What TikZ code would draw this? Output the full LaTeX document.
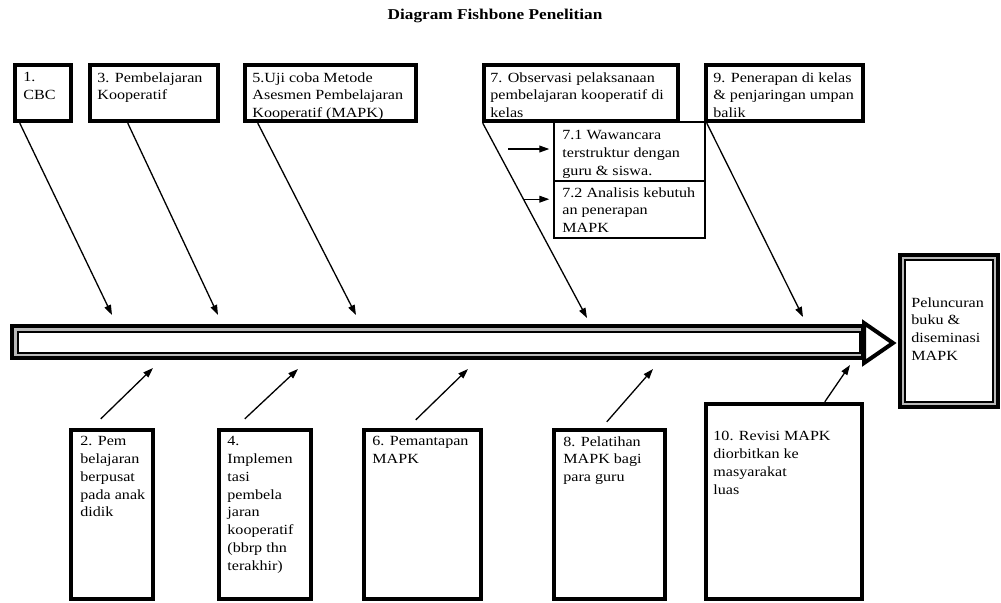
\documentclass[tikz,border=0pt]{standalone}
\usepackage{fontspec}
\setmainfont{Liberation Serif}[FakeStretch=1.15]
\usetikzlibrary{arrows.meta,fit,calc}

\tikzset{
  heavybox/.style={draw, line width=2.2pt, inner sep=0pt},
  thinbox/.style={draw, line width=0.7pt, inner sep=0pt, fill=white},
  dblouter/.style={draw, line width=2pt, inner sep=0pt, fill=gray!55},
  dblinner/.style={draw, line width=0.6pt, inner sep=0pt, fill=white},
  boxtext/.style={anchor=north west, align=left, inner sep=0pt, font=\fontsize{7}{8.9}\selectfont,
    execute at begin node={\rule{0pt}{5pt}}},
  bone/.style={line width=0.65pt, -{Triangle[length=5pt,width=3.4pt]}},
}

\begin{document}
\begin{tikzpicture}[x=0.5pt, y=-0.5pt]
\useasboundingbox (0,0) rectangle (1001,602);

\node[font=\bfseries\fontsize{7.5}{9}\selectfont, anchor=base] (title) at (495,19) {Diagram Fishbone Penelitian};

% spine with head
\node[dblouter, fit={(12,326) (863,358)}] (spine) {};
\node[dblinner, fit={(18,332) (860,353)}] (channel) {};
\draw[line width=2pt, fill=white, line join=miter] (864,323) -- (893,343) -- (864,363) -- cycle;

% result
\node[dblouter, fit={(900,255) (998,407)}] (result) {};
\node[dblinner, fit={(905,260) (993,402)}] (resultin) {};
\node[boxtext] (tr) at (911,297) {Peluncuran\\buku \&\\diseminasi\\MAPK};

% sub boxes of 7
\node[thinbox, fit={(554,122) (705,181)}] (b71) {};
\node[thinbox, fit={(554,181) (705,238)}] (b72) {};

% top boxes
\node[heavybox, fit={(15,65) (71,121)}] (b1) {};
\node[heavybox, fit={(90,65) (218,121)}] (b3) {};
\node[heavybox, fit={(245,65) (416,121)}] (b5) {};
\node[heavybox, fit={(484,65) (678,121)}] (b7) {};
\node[heavybox, fit={(706,65) (863,121)}] (b9) {};

% bottom boxes
\node[heavybox, fit={(71,430) (153,599)}] (b2) {};
\node[heavybox, fit={(219,430) (311,599)}] (b4) {};
\node[heavybox, fit={(364,430) (481,599)}] (b6) {};
\node[heavybox, fit={(554,430) (665,599)}] (b8) {};
\node[heavybox, fit={(706,404) (862,599)}] (b10) {};

\node[boxtext] (t1) at (23,72) {1.\\CBC};
\node[boxtext] (t3) at (97,72) {3. Pembelajaran\\Kooperatif};
\node[boxtext] (t5) at (252,72) {5.Uji coba Metode\\Asesmen Pembelajaran\\Kooperatif (MAPK)};
\node[boxtext] (t7) at (490,72) {7. Observasi pelaksanaan\\pembelajaran kooperatif di\\kelas};
\node[boxtext] (t9) at (713,72) {9. Penerapan di kelas\\\& penjaringan umpan\\balik};
\node[boxtext] (t71) at (562,130) {7.1 Wawancara\\terstruktur dengan\\guru \& siswa.};
\node[boxtext] (t72) at (562,187) {7.2 Analisis kebutuh\\an penerapan\\MAPK};

\node[boxtext] (t2) at (80,436) {2. Pem\\belajaran\\berpusat\\pada anak\\didik};
\node[boxtext] (t4) at (227,436) {4.\\Implemen\\tasi\\pembela\\jaran\\kooperatif\\(bbrp thn\\terakhir)};
\node[boxtext] (t6) at (372,436) {6. Pemantapan\\MAPK};
\node[boxtext] (t8) at (563,436) {8. Pelatihan\\MAPK bagi\\para guru};
\node[boxtext] (t10) at (713,431) {10. Revisi MAPK\\diorbitkan ke\\masyarakat\\luas};

% ends of the bones at the spine
\coordinate (e1) at (112,315);
\coordinate (e3) at (218,315);
\coordinate (e5) at (356,315);
\coordinate (e7) at (587,318);
\coordinate (e9) at (803,317);
\coordinate (e2) at (153,368);
\coordinate (e4) at (298,369);
\coordinate (e6) at (468,369);
\coordinate (e8) at (653,369);
\coordinate (e10) at (850,365);

\coordinate (s1) at ([shift={(7,0)}]b1.south west);
\coordinate (s3) at ([shift={(40,0)}]b3.south west);
\coordinate (s5) at ([shift={(15,0)}]b5.south west);
\coordinate (s7) at ([shift={(1,0)}]b7.south west);
\coordinate (s9) at ([shift={(3,0)}]b9.south west);
\coordinate (s2) at ([shift={(32,-9)}]b2.north west);
\coordinate (s4) at ([shift={(28,-9)}]b4.north west);
\coordinate (s6) at ([shift={(54,-8)}]b6.north west);
\coordinate (s8) at ([shift={(55,-6)}]b8.north west);
\coordinate (s10) at ([shift={(121,0)}]b10.north west);

\foreach \n in {1,...,10}
    \draw[bone] (s\n) -- (e\n);

\coordinate (a71) at (508,149);
\coordinate (a72) at ($(s7)!0.39!(e7)$);
\coordinate (e71) at ([shift={(-4,0)}]b71.west |- a71);
\coordinate (e72) at ([shift={(-4,0)}]b72.west |- a72);
\draw[bone] (a71) -- (e71);
\draw[bone] (a72) -- (e72);

\end{tikzpicture}
\end{document}
